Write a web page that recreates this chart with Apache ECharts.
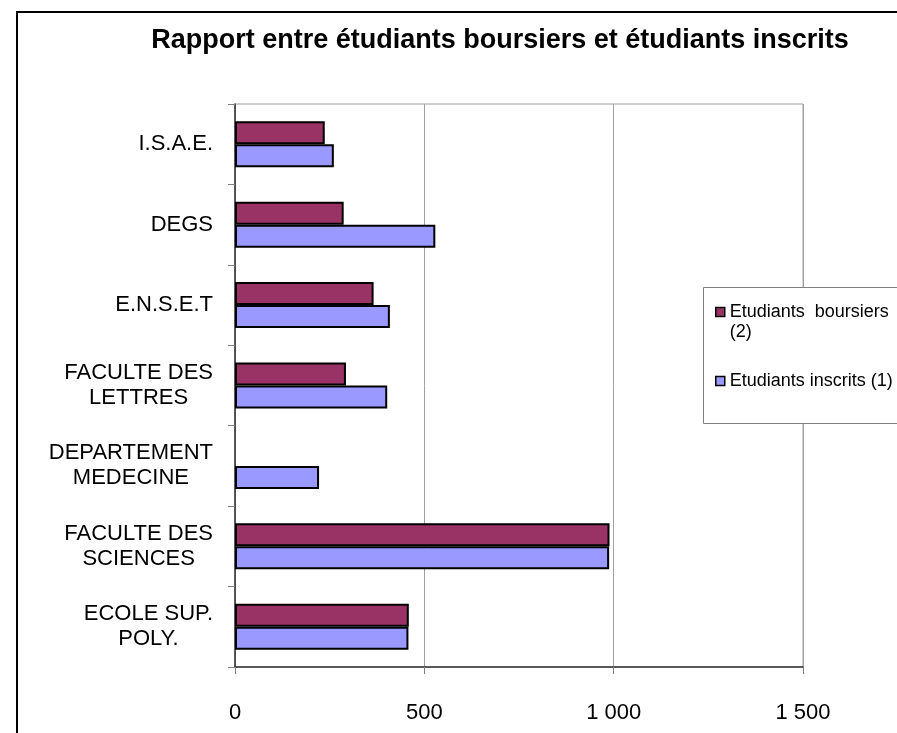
<!DOCTYPE html>
<html>
<head>
<meta charset="utf-8">
<script src="https://cdn.jsdelivr.net/npm/echarts@6/dist/echarts.min.js"></script>
<style>
  html, body { margin: 0; padding: 0; background: #fff; }
  #chart { width: 897px; height: 733px; }
</style>
</head>
<body>
<div id="chart"></div>
<script>
// Categories listed bottom-to-top (ECharts category y-axis order)
const categories = ['ECOLE SUP.\nPOLY.', 'FACULTE DES\nSCIENCES', 'DEPARTEMENT\nMEDECINE', 'FACULTE DES\nLETTRES', 'E.N.S.E.T', 'DEGS', 'I.S.A.E.'];
const inscrits = [458, 988, 222, 402, 409, 529, 261];
const boursiers = [459, 989, null, 293, 366, 287, 237];
const seriesNames = ['Etudiants  boursiers (2)', 'Etudiants inscrits (1)'];
const legendLabels = ['\nEtudiants  boursiers\n(2)', 'Etudiants inscrits (1)'];
const xTickValues = [0, 500, 1000, 1500];
const xTickLabels = ['0', '500', '1 000', '1 500'];
const titleText = 'Rapport entre étudiants boursiers et étudiants inscrits';

const FONT = "'Liberation Sans', Arial, Helvetica, sans-serif";

const chart = echarts.init(document.getElementById('chart'), null, { renderer: 'canvas' });

const option = {
  backgroundColor: '#fff',
  animation: false,
  graphic: [
    { type: 'rect', z: 0, shape: { x: 17, y: 12, width: 1000, height: 1000 },
      style: { fill: 'none', stroke: '#000', lineWidth: 2 } },
    { type: 'text', z: 10, x: 500, y: 41,
      style: { text: titleText, fontFamily: FONT, fontSize: 27, fontWeight: 'bold', fill: '#000',
               textAlign: 'center', textVerticalAlign: 'middle' } },
    { type: 'rect', z: 50, shape: { x: 703.5, y: 287.5, width: 300, height: 136 },
      style: { fill: '#fff', stroke: '#808080', lineWidth: 1 } }
  ],
  grid: {
    left: 235, right: 94, top: 104, bottom: 66,
    show: true, borderColor: '#a0a0a0', borderWidth: 1, backgroundColor: 'transparent'
  },
  legend: {
    z: 60,
    orient: 'vertical',
    left: 715, top: 282,
    padding: 0,
    itemGap: 29,
    itemWidth: 9, itemHeight: 9,
    icon: 'rect',
    data: seriesNames,
    formatter: function (name) { return legendLabels[seriesNames.indexOf(name)]; },
    itemStyle: { borderColor: '#000', borderWidth: 1.5 },
    textStyle: { fontFamily: FONT, fontSize: 18, color: '#000', lineHeight: 20 }
  },
  xAxis: {
    type: 'value',
    min: 0, max: 1500, interval: 500,
    axisLine: { show: true, lineStyle: { color: '#333', width: 1.5 } },
    axisTick: { show: true, inside: false, length: 7, lineStyle: { color: '#808080' } },
    axisLabel: {
      margin: 35, fontFamily: FONT, fontSize: 22, color: '#000',
      formatter: function (v) { const i = xTickValues.indexOf(v); return i >= 0 ? xTickLabels[i] : ''; }
    },
    splitLine: { show: true, lineStyle: { color: '#a0a0a0', width: 1 } }
  },
  yAxis: {
    type: 'category',
    data: categories,
    axisLine: { show: true, lineStyle: { color: '#333', width: 1.5 } },
    axisTick: { show: true, inside: false, length: 7, lineStyle: { color: '#808080' } },
    axisLabel: {
      margin: 22, fontFamily: FONT, fontSize: 22, color: '#000', lineHeight: 25,
      formatter: function (v) { return v.split('\n').map(function (s) { return '{c|' + s + '}'; }).join('\n'); },
      rich: { c: { align: 'center', fontFamily: FONT, fontSize: 22, color: '#000', lineHeight: 25 } }
    },
    splitLine: { show: false }
  },
  series: [
    {
      name: seriesNames[0], type: 'bar', data: boursiers,
      barWidth: 23, barGap: '0%',
      itemStyle: { color: '#993366', borderColor: '#000', borderWidth: 2 }
    },
    {
      name: seriesNames[1], type: 'bar', data: inscrits,
      barWidth: 23, barGap: '0%',
      itemStyle: { color: '#9999FF', borderColor: '#000', borderWidth: 2 }
    }
  ]
};

chart.setOption(option);
</script>
</body>
</html>
